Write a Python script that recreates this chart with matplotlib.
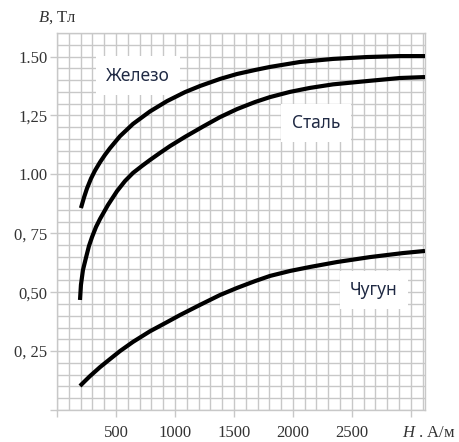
import numpy as np
import matplotlib.pyplot as plt
from matplotlib.ticker import MultipleLocator

plt.rcParams['mathtext.fontset'] = 'custom'
plt.rcParams['mathtext.rm'] = 'Liberation Serif'
plt.rcParams['mathtext.it'] = 'Liberation Serif:italic'

# B(H) curves
h_iron = [203, 229, 254, 288, 322, 365, 407, 449, 534, 644, 788, 933, 1085, 1212,
          1382, 1526, 1679, 1806, 2060, 2340, 2628, 2908, 3120]
b_iron = [0.857, 0.902, 0.940, 0.982, 1.016, 1.052, 1.083, 1.111, 1.162, 1.214, 1.267,
          1.311, 1.349, 1.375, 1.405, 1.426, 1.443, 1.456, 1.477, 1.490, 1.498, 1.502, 1.502]

h_steel = [195, 203, 220, 246, 271, 297, 331, 365, 432, 509, 577, 644, 721, 788, 873,
           958, 1085, 1238, 1382, 1526, 1679, 1806, 1975, 2145, 2340, 2628, 2908, 3120]
b_steel = [0.467, 0.531, 0.594, 0.647, 0.696, 0.734, 0.777, 0.811, 0.870, 0.929, 0.972,
           1.006, 1.036, 1.061, 1.091, 1.120, 1.159, 1.203, 1.243, 1.277, 1.307, 1.328,
           1.350, 1.367, 1.382, 1.396, 1.409, 1.413]

h_cast = [195, 237, 280, 365, 449, 534, 644, 788, 933, 1043, 1212, 1382, 1526, 1679,
          1806, 1975, 2145, 2374, 2654, 2933, 3120]
b_cast = [0.102, 0.123, 0.144, 0.182, 0.216, 0.250, 0.289, 0.334, 0.373, 0.403, 0.446,
          0.488, 0.518, 0.547, 0.569, 0.590, 0.607, 0.628, 0.649, 0.666, 0.675]

x_ticks = [0, 500, 1000, 1500, 2000, 2500, 3000]
x_labels = ['', '500', '1000', '1500', '2000', '2500', '']
y_ticks = [0, 0.25, 0.50, 0.75, 1.00, 1.25, 1.50]
y_labels = ['', '0, 25', '0,50', '0, 75', '1.00', '1,25', '1.50']

grid_c = '#c8c8c8'
text_c = '#202a44'

fig = plt.figure(figsize=(4.6, 4.42), dpi=100)
ax = fig.add_axes([57 / 460, 32 / 442, 368 / 460, 377 / 442])

ax.set_xlim(0, 3120)
ax.set_ylim(0, 1.6)
ax.xaxis.set_minor_locator(MultipleLocator(100))
ax.yaxis.set_minor_locator(MultipleLocator(0.05))
ax.set_xticks(x_ticks)
ax.set_xticklabels(x_labels)
ax.set_yticks(y_ticks)
ax.set_yticklabels(y_labels)
ax.grid(which='both', color=grid_c, lw=1.0)
ax.set_axisbelow(True)
for s in ax.spines.values():
    s.set_color(grid_c)
    s.set_linewidth(1.0)
ax.tick_params(which='major', length=5, width=1, color=grid_c, direction='out')
ax.tick_params(which='minor', length=0)
ax.tick_params(axis='x', pad=6)
ax.tick_params(axis='y', pad=2)
for lbl in ax.get_xticklabels() + ax.get_yticklabels():
    lbl.set_fontfamily('Liberation Serif')
    lbl.set_fontsize(12)
    lbl.set_color('#333333')

for h, b in [(h_iron, b_iron), (h_steel, b_steel), (h_cast, b_cast)]:
    ax.plot(h, b, color='black', lw=3, solid_capstyle='butt', solid_joinstyle='round', zorder=3)

# white label boxes sit on the grid, under the curves
box = dict(boxstyle='square,pad=0.6', facecolor='white', edgecolor='none')
ax.text(686, 1.418, 'Железо', ha='center', va='center', fontsize=12.5,
        family='Noto Sans', color=text_c, bbox=box, zorder=2)
ax.text(2195, 1.218, 'Сталь', ha='center', va='center', fontsize=12.5,
        family='Noto Sans', color=text_c, bbox=box, zorder=2)
ax.text(2686, 0.509, 'Чугун', ha='center', va='center', fontsize=12.5,
        family='Noto Sans', color=text_c, bbox=box, zorder=2)

fig.text(38 / 460, 1 - 18 / 442, r'$B$, Тл', ha='left', va='center',
         fontsize=12, family='Liberation Serif', color='#333333')
fig.text(402 / 460, 1 - 433 / 442, r'$H$ . А/м', ha='left', va='center',
         fontsize=12, family='Liberation Serif', color='#333333')

fig.savefig('out.png', dpi=100)
